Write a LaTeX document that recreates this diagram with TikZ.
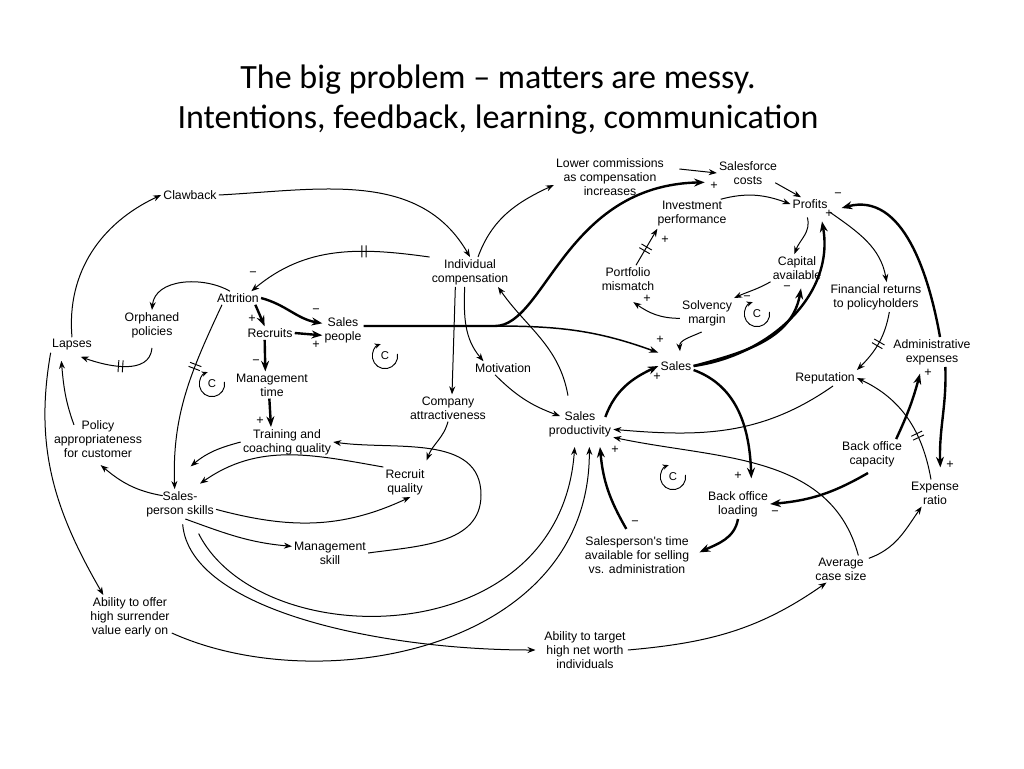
\documentclass[tikz,border=0pt]{standalone}
\usepackage{fontspec}
\usepackage{tikz}
\usetikzlibrary{arrows.meta,decorations.markings}
\newfontfamily\titlefont{Carlito}
\newfontfamily\diagfont{Liberation Sans}
\tikzset{
    var-node/.style = {font=\diagfont\fontsize{9.2}{10.5}\selectfont, align=center, inner sep=1.5pt},
    pm-sign/.style = {font=\diagfont\fontsize{9.5}{9.5}\selectfont, inner sep=0pt},
    title-text/.style = {font=\titlefont\fontsize{25.5}{30}\selectfont, align=center},
    cause-link/.style = {line width=0.75pt, -{Stealth[length=6pt,width=4.5pt]}},
    mid-link/.style = {line width=1.1pt, -{Stealth[length=7pt,width=5pt]}},
    strong-link/.style = {line width=1.8pt, -{Stealth[length=8pt,width=6pt]}},
    delay-mark/.style = {postaction={decorate, decoration={markings, mark=at position #1 with {\draw[-, line width=0.7pt] (-1.6pt,-4.5pt) -- (-1.6pt,4.5pt) (1.6pt,-4.5pt) -- (1.6pt,4.5pt);}}}},
    loop-c/.style = {font=\diagfont\fontsize{8.5}{8.5}\selectfont, inner sep=0pt},
    loop-arrow/.style = {line width=0.7pt, -{Stealth[length=4.5pt,width=4pt]}},
}

\begin{document}
\begin{tikzpicture}[x=0.75pt, y=0.75pt]
\useasboundingbox (0,0) rectangle (1024,-768);

\node[title-text] (title) at (498,-100) {The big problem – matters are messy.\\Intentions, feedback, learning, communication};

\node[var-node] (clawback) at (190,-195) {Clawback};
\node[var-node] (lowercomm) at (610,-177) {Lower commissions\\as compensation\\increases};
\node[var-node] (sfcosts) at (748,-173) {Salesforce\\costs};
\node[var-node] (invperf) at (692,-214) {Investment\\performance};
\node[var-node] (profits) at (810,-204) {Profits};
\node[var-node] (indcomp) at (470,-272) {Individual\\compensation};
\node[var-node] (attrition) at (238,-298) {Attrition};
\node[var-node] (orphaned) at (152,-325) {Orphaned\\policies};
\node[var-node] (recruits) at (270,-333) {Recruits};
\node[var-node] (salespeople) at (343,-330) {Sales\\people};
\node[var-node] (lapses) at (72,-345) {Lapses};
\node[var-node] (portfolio) at (628,-279) {Portfolio\\mismatch};
\node[var-node] (capital) at (797,-268) {Capital\\available};
\node[var-node] (solvency) at (707,-313) {Solvency\\margin};
\node[var-node] (finreturns) at (876,-297) {Financial returns\\to policyholders};
\node[var-node] (adminexp) at (932,-352) {Administrative\\expenses};
\node[var-node] (sales) at (676,-366) {Sales};
\node[var-node] (reputation) at (825,-378) {Reputation};
\node[var-node] (mgmttime) at (272,-385) {Management\\time};
\node[var-node] (motivation) at (503,-368) {Motivation};
\node[var-node] (companyattr) at (448,-408) {Company\\attractiveness};
\node[var-node] (salesprod) at (580,-424) {Sales\\productivity};
\node[var-node] (policyapp) at (98,-439) {Policy\\appropriateness\\for customer};
\node[var-node] (training) at (287,-442) {Training and\\coaching quality};
\node[var-node] (bocapacity) at (872,-454) {Back office\\capacity};
\node[var-node] (recruitq) at (405,-482) {Recruit\\quality};
\node[var-node] (expratio) at (935,-493) {Expense\\ratio};
\node[var-node] (skills) at (180,-504) {Sales-\\person skills};
\node[var-node] (boloading) at (738,-504) {Back office\\loading};
\node[var-node] (mgmtskill) at (330,-553) {Management\\skill};
\node[var-node] (sptime) at (637,-555) {Salesperson's time\\available for selling\\vs. administration};
\node[var-node] (casesize) at (841,-569) {Average\\case size};
\node[var-node] (surrender) at (130,-617) {Ability to offer\\high surrender\\value early on};
\node[var-node] (target) at (585,-650) {Ability to target\\high net worth\\individuals};

\coordinate (fork) at (495,-326);
\coordinate (ellipse-right) at (481,-495);

\draw[cause-link] (lapses.north) to[out=95,in=205] (clawback.west);
\draw[cause-link] (clawback.east) to[out=3,in=120] (indcomp.north);
\draw[cause-link, delay-mark=0.35] (indcomp.north west) to[out=172,in=40] ([xshift=10pt]attrition.north);
\draw[cause-link] ([xshift=-6pt]attrition.north) to[out=150,in=85] (orphaned.north);
\draw[cause-link, delay-mark=0.5] ([yshift=-6pt]orphaned.south) to[out=-95,in=-20] ([xshift=-10pt,yshift=-3pt]lapses.south east);
\draw[strong-link] ([xshift=13pt]attrition.south) -- ([xshift=-4pt]recruits.north);
\draw[strong-link] (attrition.east) to[out=-15,in=170] ([yshift=5pt]salespeople.west);
\draw[strong-link] (recruits.east) -- ([yshift=-4pt]salespeople.west);
\draw[strong-link] ([xshift=-4pt]recruits.south) -- ([xshift=-5pt]mgmttime.north);
\draw[strong-link] ([xshift=-2pt]mgmttime.south) -- ([xshift=-12pt]training.north);
\draw[cause-link, delay-mark=0.35] ([xshift=-12pt]attrition.south) to[out=-115,in=92] ([xshift=-4pt]skills.north);
\draw[cause-link] (training.west) to[out=195,in=40] ([xshift=8pt,yshift=17pt]skills.north);
\draw[cause-link] (recruitq.north west) to[out=170,in=35] ([xshift=15pt,yshift=4pt]skills.north);
\draw[cause-link] (mgmtskill.east) to[out=8,in=-90] (ellipse-right) to[out=90,in=-8] (training.east);
\draw[cause-link] (companyattr.south) to[out=-105,in=70] ([yshift=5pt]recruitq.north east);
\draw[cause-link] ([yshift=-4pt]skills.east) to[out=-15,in=205] ([xshift=4pt]recruitq.south);
\draw[cause-link] ([xshift=4pt]skills.south) to[out=-20,in=175] ([yshift=5pt]mgmtskill.west);
\draw[cause-link] ([xshift=-13pt,yshift=-5pt]skills.north) to[out=170,in=-40] ([xshift=2pt,yshift=-4pt]policyapp.south);
\draw[cause-link] ([xshift=-18pt,yshift=-5pt]policyapp.north) to[out=110,in=-85] ([xshift=-8pt,yshift=-6pt]lapses.south);
\draw[cause-link] ([xshift=-16pt]lapses.south) to[out=-100,in=120] ([xshift=-20pt]surrender.north);
\draw[cause-link] ([xshift=14pt,yshift=-11pt]skills.south) .. controls (260,-655) and (560,-655) .. ([xshift=-4pt,yshift=-6pt]salesprod.south);
\draw[cause-link] ([xshift=2pt,yshift=-4pt]skills.south) .. controls (190,-610) and (380,-650) .. ([xshift=-5pt]target.west);
\draw[cause-link] ([yshift=-12pt]surrender.east) .. controls (320,-700) and (590,-650) .. ([xshift=7pt,yshift=-6pt]salesprod.south);
\draw[cause-link] (target.east) to[out=5,in=215] ([xshift=10pt]casesize.south west);

\draw[cause-link] ([xshift=6pt]indcomp.north) to[out=70,in=205] ([yshift=-6pt]lowercomm.west);
\draw[cause-link] ([xshift=10pt,yshift=6pt]lowercomm.east) -- (sfcosts.west);
\draw[strong-link] ([yshift=3pt]salespeople.east) -- (fork) .. controls (545,-326) and (565,-185) .. ([xshift=-9pt,yshift=-7pt]sfcosts.west);
\draw[mid-link] (fork) to[out=0,in=160] ([yshift=10pt]sales.west);
\draw[cause-link] ([xshift=-11pt]indcomp.south) -- ([xshift=3pt]companyattr.north);
\draw[cause-link] ([xshift=-4pt]indcomp.south) to[out=-92,in=130] ([xshift=8pt]motivation.north west);
\draw[cause-link] ([xshift=-6pt]motivation.south) to[out=-45,in=160] ([xshift=10pt,yshift=6pt]salesprod.west);
\draw[cause-link] ([xshift=-9pt,yshift=10pt]salesprod.north) to[out=100,in=-55] ([xshift=21pt]indcomp.south);
\draw[strong-link] ([xshift=19pt,yshift=-6pt]salesprod.north) to[out=70,in=205] (sales.west);

\draw[cause-link] ([xshift=-6pt]invperf.north east) to[out=15,in=160] (profits.west);
\draw[cause-link] ([xshift=-3pt,yshift=3pt]sfcosts.south east) -- ([xshift=8pt]profits.north west);
\draw[cause-link] ([xshift=-2pt,yshift=-5pt]profits.south) to[out=-75,in=70] ([xshift=-2pt]capital.north);
\draw[cause-link] (capital.south west) to[out=-150,in=25] (solvency.north east);
\draw[cause-link] ([yshift=-4pt]solvency.west) to[out=180,in=-35] ([xshift=4pt,yshift=-7pt]portfolio.south);
\draw[cause-link, delay-mark=0.45] ([xshift=6pt]portfolio.north) -- ([xshift=-26pt]invperf.south);
\draw[cause-link] ([xshift=-4pt,yshift=-3pt]solvency.south) to[out=-155,in=95] ([xshift=3pt,yshift=6pt]sales.north);
\draw[strong-link] (sales.east) to[out=15,in=-100] ([xshift=3pt,yshift=-5pt]capital.south);
\draw[strong-link] (sales.east) to[out=8,in=-80] ([xshift=9pt,yshift=-8pt]profits.south);
\draw[cause-link] ([yshift=-6pt]profits.east) to[out=-35,in=100] ([xshift=8pt]finreturns.north);
\draw[cause-link, delay-mark=0.5] ([xshift=10pt]finreturns.south) to[out=-100,in=45] (reputation.north east);
\draw[strong-link] ([xshift=6pt]adminexp.north) to[out=100,in=15] ([xshift=9pt,yshift=-3pt]profits.east);
\draw[strong-link] ([xshift=10pt]adminexp.south) to[out=-88,in=92] ([xshift=4pt,yshift=9pt]expratio.north);
\draw[strong-link] ([xshift=-6pt]bocapacity.north east) to[out=65,in=-105] ([xshift=-9pt,yshift=-5pt]adminexp.south);
\draw[cause-link, delay-mark=0.35] ([xshift=-3pt]expratio.north) to[out=100,in=-25] (reputation.east);
\draw[cause-link] ([xshift=6pt]reputation.south) to[out=-145,in=-5] ([yshift=-4pt]salesprod.east);
\draw[cause-link] ([xshift=13pt]casesize.north) to[out=105,in=-12] ([yshift=-10pt]salesprod.east);
\draw[cause-link] ([yshift=8pt]casesize.east) to[out=20,in=-125] ([xshift=-10pt]expratio.south);
\draw[strong-link] ([yshift=-3pt]sales.east) to[out=-20,in=92] ([xshift=10pt,yshift=8pt]boloading.north);
\draw[strong-link] ([xshift=-3pt,yshift=-3pt]bocapacity.south) to[out=-150,in=5] (boloading.east);
\draw[strong-link] (boloading.south) to[out=-100,in=25] ([xshift=6pt,yshift=2pt]sptime.east);
\draw[strong-link] ([xshift=-8pt,yshift=4pt]sptime.north) to[out=120,in=-85] ([xshift=15pt,yshift=-6pt]salesprod.south);

\foreach \sx/\sy/\sg [count=\k] in {253/-274/−, 252/-319/+, 316/-311/−, 316/-345/+, 256/-362/−, 260/-421/+,
    714/-186/+, 665/-240/+, 838/-195/−, 829/-214/+, 787/-288/−, 747/-298/−, 647/-299/+, 660/-340/+,
    657/-377/+, 928/-373/+, 950/-465/+, 738/-476/+, 775/-513/−, 635/-523/−, 615/-450/+}
    \node[pm-sign] (sign\k) at (\sx,\sy) {\sg};

\foreach \cx/\cy [count=\k] in {385/-356, 212/-384, 757/-314, 673/-477} {
    \node[loop-c] (loop\k) at (\cx,\cy) {C};
    \draw[loop-arrow] ([shift={(10:9.5pt)}]loop\k.center) arc[start angle=10, end angle=-250, radius=9.5pt];
}
\end{tikzpicture}
\end{document}
